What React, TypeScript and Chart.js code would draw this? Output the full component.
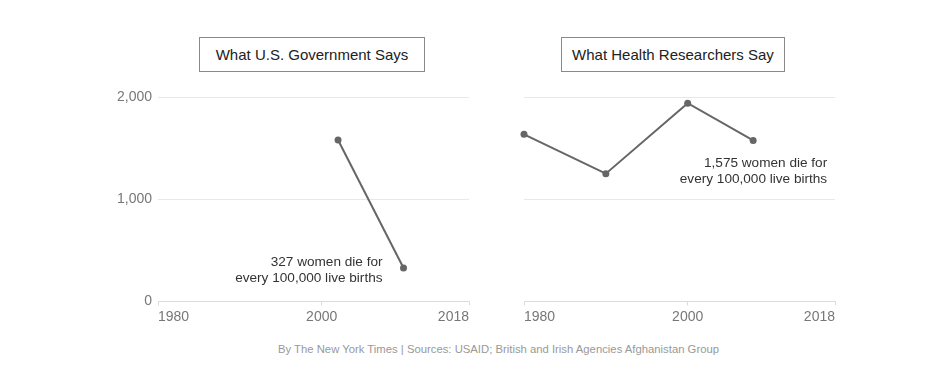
import React, { useEffect, useRef } from "react";
import { Chart, registerables } from "chart.js";

Chart.register(...registerables);

const X_TICKS = [1980, 2000, 2018];
const Y_TICKS = [0, 1000, 2000];

const govYears = [2002, 2010];
const govValues = [1580, 327];

const researchYears = [1980, 1990, 2000, 2008];
const researchValues = [1635, 1250, 1940, 1575];

const govTitle = "What U.S. Government Says";
const researchTitle = "What Health Researchers Say";
const govNote = ["327 women die for", "every 100,000 live births"];
const researchNote = ["1,575 women die for", "every 100,000 live births"];
const footer = "By The New York Times | Sources: USAID; British and Irish Agencies Afghanistan Group";

const FONT = '"Liberation Sans", Arial, sans-serif';

const overlayPlugin = {
  id: "overlay",
  afterDraw(chart: any, _args: any, opts: any) {
    const { ctx, chartArea } = chart;
    const x = chart.scales.x;
    ctx.save();
    ctx.font = `14px ${FONT}`;
    ctx.fillStyle = "#777";
    ctx.textBaseline = "alphabetic";
    X_TICKS.forEach((v, i) => {
      ctx.textAlign = i === 0 ? "left" : i === X_TICKS.length - 1 ? "right" : "center";
      ctx.fillText(String(v), x.getPixelForValue(v), chartArea.bottom + 19);
    });
    if (opts && opts.lines) {
      const meta = chart.getDatasetMeta(0);
      const pt = meta.data[opts.index];
      ctx.font = `13.6px ${FONT}`;
      ctx.fillStyle = "#333";
      ctx.textAlign = "right";
      opts.lines.forEach((line: string, i: number) => {
        ctx.fillText(line, pt.x + opts.dx, pt.y + opts.dy + i * 16);
      });
    }
    ctx.restore();
  },
};

function Panel(props: {
  years: number[];
  values: number[];
  showY: boolean;
  note: string[];
  noteIndex: number;
  dx: number;
  dy: number;
  left: number;
}) {
  const ref = useRef<HTMLCanvasElement | null>(null);
  useEffect(() => {
    if (!ref.current) return;
    const chart = new Chart(ref.current, {
      type: "line",
      data: {
        datasets: [
          {
            data: props.years.map((y, i) => ({ x: y, y: props.values[i] })),
            borderColor: "#666",
            backgroundColor: "#666",
            borderWidth: 2,
            pointRadius: 3.5,
            pointBackgroundColor: "#666",
            pointBorderWidth: 0,
            tension: 0,
            clip: false as any,
          },
        ],
      },
      options: {
        animation: false,
        responsive: false,
        maintainAspectRatio: false,
        layout: { padding: { top: 17, right: 11, left: 0, bottom: 0 } },
        plugins: {
          legend: { display: false },
          tooltip: { enabled: false },
          overlay: { lines: props.note, index: props.noteIndex, dx: props.dx, dy: props.dy },
        } as any,
        scales: {
          x: {
            type: "linear",
            min: 1980,
            max: 2018,
            afterBuildTicks: (scale: any) => {
              scale.ticks = X_TICKS.map((v) => ({ value: v }));
            },
            afterFit: (scale: any) => {
              scale.height = 28.5;
            },
            ticks: { display: false },
            grid: {
              display: true,
              drawOnChartArea: false,
              drawTicks: true,
              tickLength: 4,
              color: "#dcdcdc",
            },
            border: { display: true, color: "#dcdcdc", width: 1 },
          },
          y: {
            min: 0,
            max: 2000,
            afterBuildTicks: (scale: any) => {
              scale.ticks = Y_TICKS.map((v) => ({ value: v }));
            },
            afterFit: (scale: any) => {
              scale.width = 58;
            },
            ticks: {
              display: props.showY,
              color: "#777",
              padding: 6,
              font: { family: FONT, size: 14 },
              callback: (v: any) => Number(v).toLocaleString("en-US"),
            },
            grid: { color: "#e8e8e8", drawTicks: false, lineWidth: 1 },
            border: { display: false },
          },
        },
      },
      plugins: [overlayPlugin],
    });
    return () => chart.destroy();
  }, []);
  return (
    <canvas
      ref={ref}
      width={380}
      height={250}
      style={{ position: "absolute", left: props.left, top: 80, width: 380, height: 250 }}
    />
  );
}

function TitleBox(props: { text: string; left: number; width: number }) {
  return (
    <div
      style={{
        position: "absolute",
        left: props.left,
        top: 37,
        width: props.width,
        height: 35,
        boxSizing: "border-box",
        border: "1px solid #8a8a8a",
        display: "flex",
        alignItems: "center",
        justifyContent: "center",
        fontFamily: FONT,
        fontSize: 15,
        color: "#222",
      }}
    >
      {props.text}
    </div>
  );
}

export default function App() {
  return (
    <div
      style={{
        position: "absolute",
        left: 0,
        top: 0,
        width: 934,
        height: 379,
        background: "#fff",
        overflow: "hidden",
      }}
    >
      <TitleBox text={govTitle} left={199} width={226} />
      <TitleBox text={researchTitle} left={561} width={224} />
      <Panel years={govYears} values={govValues} showY={true} note={govNote} noteIndex={1} dx={-21} dy={-2} left={100} />
      <Panel
        years={researchYears}
        values={researchValues}
        showY={false}
        note={researchNote}
        noteIndex={3}
        dx={74}
        dy={27}
        left={466}
      />
      <div
        style={{
          position: "absolute",
          left: 0,
          width: 997,
          top: 343,
          textAlign: "center",
          fontFamily: FONT,
          fontSize: 11.3,
          color: "#999",
          whiteSpace: "nowrap",
        }}
      >
        {footer}
      </div>
    </div>
  );
}
